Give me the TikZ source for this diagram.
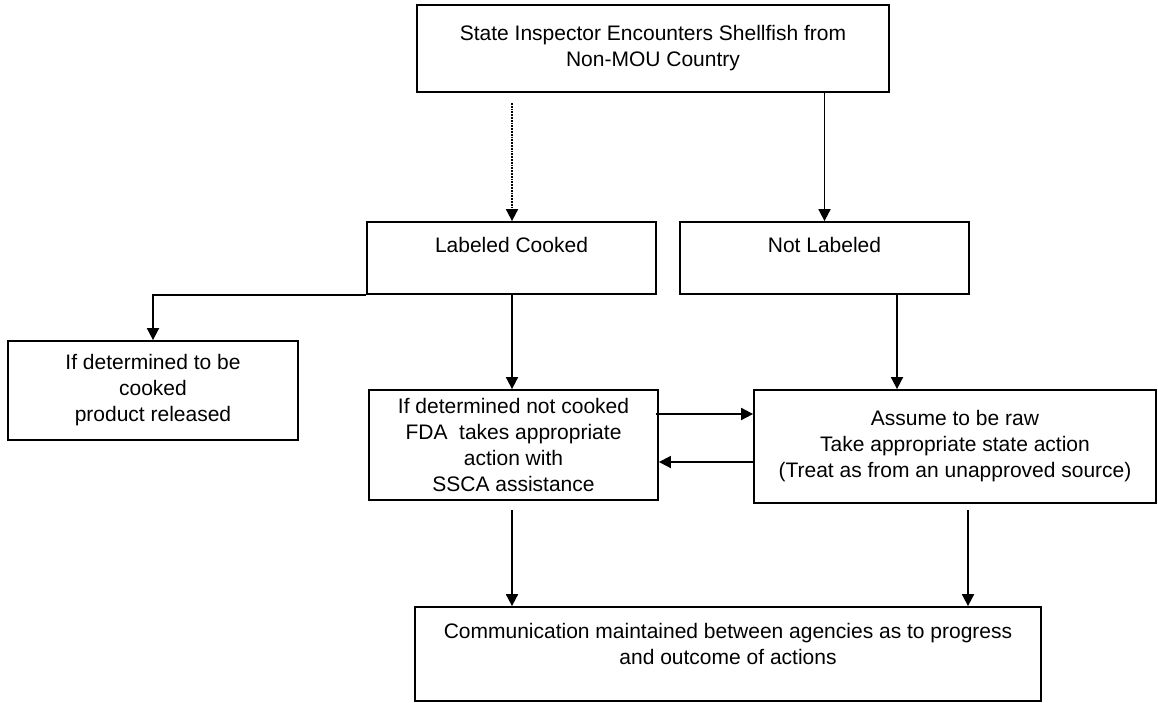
\documentclass[tikz,border=0pt]{standalone}
\usepackage{fontspec}
\setmainfont{Liberation Sans}
\usetikzlibrary{arrows.meta}

\tikzstyle{box} = [rectangle, draw, line width=1.8pt, align=center,
    inner sep=0pt, font=\fontsize{21}{26}\selectfont]
\tikzstyle{lifted} = [text height=15pt, text depth=26pt]
\tikzstyle{arrow} = [line width=1.8pt, -{Triangle[length=12pt,width=12pt]}]
\tikzstyle{dotarrow} = [arrow, densely dotted]

\begin{document}
\begin{tikzpicture}[x=1pt, y=-1pt]
	\useasboundingbox (0,0) rectangle (1158,702);
	\node [box, minimum width=472, minimum height=87] (inspector) at (653,48.5)
		{State Inspector Encounters Shellfish from\\Non-MOU Country};
	%
	\node [box, lifted, minimum width=289, minimum height=72] (cooked) at (511.5,258) {Labeled Cooked};
	\node [box, lifted, minimum width=289, minimum height=72] (notlab) at (824.5,258) {Not Labeled};
	%
	\node [box, minimum width=290, minimum height=99] (released) at (153,390.5)
		{\rule{0pt}{12pt}If determined to be\\cooked\\product released};
	\node [box, minimum width=289, minimum height=110] (fda) at (513.5,445)
		{If determined not cooked\\FDA\ \ takes appropriate\\action with\\SSCA assistance};
	\node [box, minimum width=402, minimum height=113] (raw) at (955,446.5)
		{Assume to be raw\\Take appropriate state action\\(Treat as from an unapproved source)};
	%
	\node [box, minimum width=626, minimum height=94, text depth=21pt] (comm) at (728,654)
		{Communication maintained between agencies as to progress\\and outcome of actions};
	%
	\coordinate (dotstart) at (512,103);
	\coordinate (nlfoot) at (897,294);
	\coordinate (fdaout) at (656,414);
	\coordinate (rawback) at (754,462);
	\coordinate (fdafoot) at (512,510);
	\coordinate (rawfoot) at (968,510);
	%
	\draw [dotarrow] (dotstart) -- (dotstart |- cooked.north);
	\draw [arrow] (inspector.south -| notlab.north) -- (notlab.north);
	\draw [arrow] (cooked.south west) -| (released.north);
	\draw [arrow] (dotstart |- cooked.south) -- (dotstart |- fda.north);
	\draw [arrow] (nlfoot) -- (nlfoot |- raw.north);
	\draw [arrow] (fdaout) -- (fdaout -| raw.west);
	\draw [arrow] (rawback) -- (rawback -| fda.east);
	\draw [arrow] (fdafoot) -- (fdafoot |- comm.north);
	\draw [arrow] (rawfoot) -- (rawfoot |- comm.north);
\end{tikzpicture}
\end{document}
